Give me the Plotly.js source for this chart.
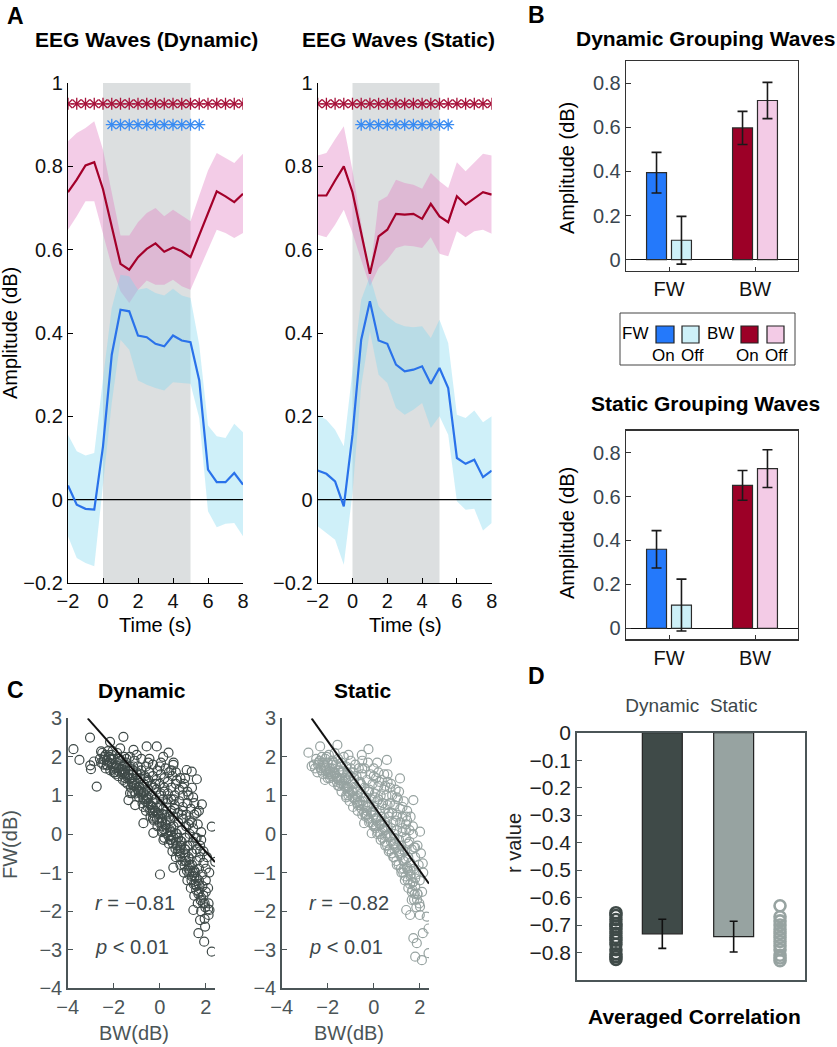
<!DOCTYPE html>
<html><head><meta charset="utf-8">
<script src="https://cdn.plot.ly/plotly-3.0.1.min.js"></script>
<style>html,body{margin:0;padding:0;background:#fff}#chart{width:837px;height:1047px}</style>
</head><body><div id="chart"></div>
<script>
// ---------------- DATA ----------------
// Panel A: time course (s)
const time = [-2,-1.5,-1,-0.5,0,0.5,1,1.5,2,2.5,3,3.5,4,4.5,5,5.5,6,6.5,7,7.5,8];
const stimWindow = [0, 5];
// Dynamic
const dynBWMean  = [0.738,0.768,0.802,0.810,0.745,0.655,0.566,0.552,0.582,0.602,0.615,0.595,0.605,0.596,0.582,0.635,0.690,0.740,0.728,0.714,0.734];
const dynBWUpper = [0.860,0.880,0.892,0.908,0.840,0.740,0.634,0.634,0.666,0.688,0.700,0.680,0.696,0.682,0.668,0.730,0.790,0.832,0.820,0.808,0.830];
const dynBWLower = [0.648,0.680,0.716,0.716,0.640,0.560,0.500,0.472,0.504,0.526,0.516,0.516,0.528,0.512,0.504,0.550,0.600,0.648,0.640,0.628,0.640];
const dynFWMean  = [0.034,-0.012,-0.022,-0.024,0.128,0.348,0.456,0.452,0.394,0.390,0.374,0.368,0.394,0.382,0.378,0.286,0.072,0.042,0.042,0.064,0.036];
const dynFWUpper = [0.156,0.116,0.106,0.112,0.290,0.460,0.540,0.536,0.504,0.508,0.496,0.490,0.506,0.490,0.484,0.372,0.178,0.152,0.148,0.182,0.162];
const dynFWLower = [-0.088,-0.140,-0.152,-0.160,0.030,0.232,0.384,0.360,0.286,0.276,0.268,0.262,0.282,0.280,0.278,0.196,-0.028,-0.066,-0.058,-0.056,-0.088];
// Static
const statBWMean  = [0.730,0.730,0.766,0.800,0.738,0.640,0.542,0.632,0.648,0.686,0.684,0.686,0.674,0.710,0.680,0.666,0.728,0.708,0.722,0.738,0.732];
const statBWUpper = [0.826,0.832,0.865,0.896,0.790,0.660,0.536,0.716,0.728,0.768,0.760,0.756,0.746,0.784,0.764,0.748,0.810,0.788,0.808,0.830,0.826];
const statBWLower = [0.636,0.630,0.660,0.696,0.640,0.575,0.512,0.556,0.576,0.604,0.610,0.608,0.604,0.630,0.590,0.584,0.644,0.630,0.644,0.648,0.638];
const statFWMean  = [0.070,0.062,0.044,-0.016,0.156,0.384,0.476,0.382,0.374,0.324,0.308,0.312,0.320,0.278,0.316,0.268,0.100,0.086,0.096,0.054,0.070];
const statFWUpper = [0.204,0.192,0.168,0.128,0.310,0.480,0.536,0.464,0.440,0.424,0.416,0.414,0.416,0.388,0.432,0.376,0.204,0.196,0.214,0.186,0.200];
const statFWLower = [-0.064,-0.080,-0.096,-0.156,0.016,0.272,0.404,0.300,0.280,0.220,0.204,0.216,0.232,0.172,0.200,0.156,-0.004,-0.024,-0.022,-0.074,-0.056];
// significance markers
const sigBWTimes = [-2,-1.5,-1,-0.5,0,0.5,1,1.5,2,2.5,3,3.5,4,4.5,5,5.5,6,6.5,7,7.5,8];
const sigFWTimes = [0.5,1,1.5,2,2.5,3,3.5,4,4.5,5,5.5];
const sigBWLevel = 0.95, sigFWLevel = 0.9;

// Panel B: grouping waves (categories FW, BW)
const waveCats = ['FW','BW'];
const dynOn = [0.394, 0.597],  dynOnErr = [0.092, 0.075];
const dynOff = [0.088, 0.721], dynOffErr = [0.108, 0.082];
const statOn = [0.360, 0.651], statOnErr = [0.085, 0.068];
const statOff = [0.106, 0.727], statOffErr = [0.118, 0.086];

// Panel C: single-trial BW vs FW amplitude (dB)
const dynBW = [-3.75,-3.49,-3.03,-2.99,-2.86,-2.74,-2.55,-2.16,-1.72,-1.58,-1.14,-0.57,-0.13,0.38,0.59,1.17,1.39,1.61,1.83,2.26,2.41,0.01,0.59,-0.28,2.12,2.16,2.12,1.97,1.93,1.68,2.26,1.75,1.46,-1.36,-1.07,-1.29,-0.93,-0.71,0.16,-3.02,
 -2.6,-2.5,-2.45,-2.4,-2.35,-2.3,-2.25,
 -2.2,-2.15,-2.1,-2.05,-2.0,-1.95,-1.9,-1.85,-1.8,-1.8,
 -1.7,-1.65,-1.6,-1.55,-1.5,-1.5,-1.45,-1.4,-1.35,-1.3,-1.3,
 -1.25,-1.2,-1.15,-1.1,-1.05,-1.0,-1.0,-0.95,-0.9,-0.9,-0.85,-0.8,-0.8,
 -0.75,-0.7,-0.7,-0.65,-0.6,-0.6,-0.55,-0.5,-0.5,-0.45,-0.45,-0.4,-0.4,-0.35,-0.35,-0.3,-0.3,
 -0.25,-0.2,-0.2,-0.15,-0.15,-0.1,-0.1,-0.05,0.0,0.0,0.0,0.05,0.05,0.1,0.1,0.15,0.15,0.2,0.2,0.2,
 0.25,0.3,0.3,0.35,0.35,0.4,0.4,0.45,0.45,0.5,0.5,0.5,0.55,0.55,0.6,0.6,0.6,
 0.65,0.65,0.7,0.7,0.7,0.75,0.75,0.8,0.8,0.85,0.85,0.9,0.9,0.9,0.95,0.95,1.0,1.0,1.0,
 1.05,1.05,1.1,1.1,1.1,1.15,1.15,1.2,1.2,1.2,1.25,1.25,1.3,1.3,1.3,1.35,1.35,1.4,1.4,1.4,
 1.45,1.45,1.5,1.5,1.5,1.55,1.55,1.6,1.6,1.6,1.65,1.65,1.7,1.7,1.7,1.75,1.75,1.8,1.8,1.8,
 1.85,1.85,1.9,1.9,1.95,1.95,2.0,2.0,2.0,2.05,2.1,2.1,2.15,
 -1.6,-1.2,-0.8,-0.6,-0.3,-0.1,0.1,0.3,0.5,0.7,0.9,1.1,1.3,1.5,1.6,0.2,0.4,-0.5,0.8,1.2,
 -2.55,-2.42,-2.28,-2.12,-1.98,-1.88,-1.76,-1.62,-1.52,-1.42,-1.32,-1.22,-1.12,-1.02,-0.92,-0.82,-0.72,-0.62,-0.52,-0.42,-0.32,-0.22,-0.12,-0.02,0.08,0.18,0.28,0.38,0.48,0.58,0.68,0.78,0.88,0.98,1.08,1.18,1.28,1.38,1.48,1.58,1.68,1.78,1.88,1.98,
 -2.35,-2.05,-1.75,-1.45,-1.15,-0.85,-0.55,-0.25,0.05,0.35,0.65,0.95,1.25,1.55,1.75,-2.0,-1.6,-1.2,-0.7,-0.3,0.1,0.45,0.85,1.15,1.45,
 -1.0,-0.5,0.0,0.25,0.5,0.75,1.0,1.25,1.45,1.6,1.7,0.15,0.6,1.1,1.4,
 -2.3,-2.1,-1.9,-1.7,-1.5,-1.3,-1.1,-0.9,-0.7,-0.5,-0.3,-0.1,0.1,0.3,0.5,0.7,0.9,1.1,1.3,1.5,1.7,1.9,
 -2.2,-1.8,-1.4,-1.0,-0.6,-0.2,0.2,0.6,1.0,1.4,1.8,
 -1.9,-1.5,-1.1,-0.7,-0.3,0.1,0.5,0.9,1.3,1.6];
const dynFW = [2.2,1.92,2.5,1.68,1.88,1.23,2.14,2.39,2.22,2.52,2.18,2.27,2.27,2.11,1.79,1.66,1.62,1.42,0.77,0.19,-0.72,-1.05,-0.87,0.03,-1.8,-1.97,-2.1,-2.4,-2.79,-2.57,-3.05,-2.23,-1.97,0.88,0.75,1.06,1.14,0.28,-0.15,1.78,
 1.95,2.1,1.8,2.0,1.7,1.9,2.15,
 1.85,1.65,2.05,1.75,1.95,1.6,1.85,2.1,1.7,1.5,
 1.9,1.55,1.75,2.0,1.45,1.65,1.85,1.3,1.55,1.75,2.0,
 1.2,1.45,1.65,1.9,1.05,1.3,1.55,1.75,0.95,1.2,1.45,1.65,1.95,
 0.8,1.05,1.3,1.5,1.75,0.6,0.9,1.15,1.4,1.6,1.95,0.45,0.75,1.0,1.25,1.5,1.8,
 0.35,0.6,0.9,1.15,1.4,1.65,0.2,0.5,0.75,1.0,1.3,1.55,1.85,0.05,0.4,0.65,0.9,1.2,1.45,-0.1,
 0.25,0.5,0.8,1.05,1.35,1.6,-0.25,0.1,0.35,0.6,0.9,1.2,1.5,-0.45,-0.1,0.2,0.45,
 0.75,1.0,1.3,1.6,-0.6,-0.3,0.0,0.3,0.55,0.85,1.15,1.45,-0.8,-0.5,-0.2,0.1,0.4,0.7,1.0,
 1.3,-1.0,-0.7,-0.4,-0.1,0.2,0.5,0.8,1.1,-1.2,-0.9,-0.6,-0.3,0.0,0.35,0.65,-1.4,-1.1,-0.8,-0.5,
 -0.2,0.15,0.5,0.8,-1.6,-1.3,-1.0,-0.7,-0.4,-0.1,0.25,-1.8,-1.5,-1.2,-0.9,-0.6,-0.3,0.05,-2.0,-1.65,
 -1.35,-1.05,-0.75,-0.45,-2.2,-1.8,-1.5,-1.2,-0.9,-0.6,-1.95,-1.4,-1.0,
 1.6,1.3,1.1,1.0,0.7,0.55,0.3,0.15,-0.05,-0.2,-0.35,-0.55,-0.8,-1.1,-1.35,0.5,0.45,0.8,-0.1,-0.3,
 1.85,1.92,1.78,1.95,1.7,1.78,1.62,1.68,1.55,1.48,1.42,1.35,1.25,1.2,1.1,1.05,0.95,0.85,0.7,0.62,0.55,0.45,0.38,0.3,0.2,0.12,0.02,-0.05,-0.15,-0.25,-0.38,-0.45,-0.6,-0.7,-0.82,-0.95,-1.05,-1.2,-1.3,-1.45,-1.55,-1.72,-1.8,-1.9,
 2.05,2.15,1.95,1.95,1.75,1.55,1.35,1.2,1.05,0.9,0.65,0.5,0.25,-0.1,-0.45,1.6,1.4,1.05,0.7,0.4,0.1,-0.15,-0.45,-0.7,-1.0,
 2.05,1.85,1.75,1.7,1.65,1.4,1.2,1.0,0.95,0.55,0.6,2.0,1.85,1.45,1.2,
 1.8,1.82,1.72,1.66,1.58,1.45,1.32,1.22,1.08,0.95,0.82,0.68,0.52,0.35,0.18,0.02,-0.18,-0.4,-0.65,-0.95,-1.3,-1.6,
 2.0,1.95,1.75,1.6,1.45,1.3,1.1,0.9,0.6,0.3,-0.15,
 1.55,1.35,1.1,0.9,0.6,0.35,0.05,-0.3,-0.95,-1.15];
const statBW = [-2.84,-2.7,-2.33,-2.12,-1.58,-1.1,-0.52,-0.23,0.57,1.14,1.72,2.01,2.13,-0.42,-0.09,2.3,2.38,2.38,2.09,1.8,1.87,1.72,2.13,1.58,1.41,2.01,1.65,
 -2.6,-2.5,-2.45,-2.4,-2.3,-2.25,-2.2,-2.15,-2.1,-2.05,-2.0,-2.0,
 -1.95,-1.9,-1.85,-1.8,-1.75,-1.7,-1.7,-1.65,-1.6,-1.55,-1.55,-1.5,
 -1.45,-1.4,-1.4,-1.35,-1.3,-1.3,-1.25,-1.2,-1.2,-1.15,-1.1,-1.05,-1.0,-1.0,
 -0.95,-0.9,-0.9,-0.85,-0.8,-0.8,-0.75,-0.7,-0.7,-0.65,-0.6,-0.6,-0.55,-0.5,-0.5,-0.5,
 -0.45,-0.4,-0.4,-0.35,-0.35,-0.3,-0.25,-0.25,-0.2,-0.2,-0.15,-0.1,-0.1,-0.05,0.0,0.0,0.0,
 0.05,0.1,0.1,0.15,0.15,0.2,0.2,0.25,0.25,0.3,0.3,0.35,0.35,0.4,0.4,0.45,0.45,0.5,0.5,0.5,
 0.55,0.6,0.6,0.65,0.65,0.7,0.7,0.75,0.75,0.8,0.8,0.85,0.85,0.9,0.9,0.95,0.95,1.0,1.0,1.0,
 1.05,1.1,1.1,1.15,1.15,1.2,1.2,1.25,1.25,1.3,1.3,1.35,1.35,1.4,1.4,1.45,1.45,1.5,1.5,1.5,
 1.55,1.6,1.6,1.65,1.65,1.7,1.7,1.75,1.75,1.8,1.8,1.85,1.85,1.9,1.9,1.95,2.0,2.0,2.05,2.1,2.15,
 -1.8,-1.2,-0.8,-0.4,0.0,0.3,0.6,0.9,1.2,1.4,1.6,1.8,
 -2.55,-2.42,-2.28,-2.12,-1.98,-1.88,-1.76,-1.62,-1.52,-1.42,-1.32,-1.22,-1.12,-1.02,-0.92,-0.82,-0.72,-0.62,-0.52,-0.42,-0.32,-0.22,-0.12,-0.02,0.08,0.18,0.28,0.38,0.48,0.58,0.68,0.78,0.88,0.98,1.08,1.18,1.28,1.38,1.48,1.58,1.68,1.78,1.88,1.98,
 -2.35,-2.05,-1.75,-1.45,-1.15,-0.85,-0.55,-0.25,0.05,0.35,0.65,0.95,1.25,1.55,1.75,-2.0,-1.6,-1.2,-0.7,-0.3,0.1,0.45,0.85,1.15,1.45,
 -1.0,-0.5,0.0,0.25,0.5,0.75,1.0,1.25,1.45,1.6,1.7,0.15,0.6,1.1,1.4,
 -2.3,-2.1,-1.9,-1.7,-1.5,-1.3,-1.1,-0.9,-0.7,-0.5,-0.3,-0.1,0.1,0.3,0.5,0.7,0.9,1.1,1.3,1.5,1.7,1.9,
 -2.2,-1.8,-1.4,-1.0,-0.6,-0.2,0.2,0.6,1.0,1.4,1.8,
 -1.9,-1.5,-1.1,-0.7,-0.3,0.1,0.5,0.9,1.3,1.6];
const statFW = [2.11,1.76,2.27,1.4,2.31,2.05,2.05,2.2,1.92,1.44,0.88,0.06,-0.76,0.28,0.02,-2.14,-2.45,-3.09,-3.27,-3.18,-2.83,-2.7,-2.57,-2.1,-1.97,-1.88,-1.71,
 1.8,1.95,1.6,1.85,1.7,2.0,1.55,1.8,1.95,1.65,1.85,1.45,
 2.05,1.7,1.5,1.9,1.35,1.6,2.1,1.8,1.45,1.25,1.95,1.65,
 1.4,1.85,1.1,1.6,1.25,2.0,1.45,0.95,1.75,1.2,1.55,0.85,1.35,1.9,
 1.1,1.6,0.7,1.3,0.95,1.8,1.5,0.6,1.15,1.7,0.85,1.35,1.05,0.5,1.55,1.9,
 0.75,1.2,1.7,0.45,0.95,1.4,0.7,1.85,1.1,0.3,1.55,0.55,0.9,1.3,1.7,0.2,0.7,
 1.05,1.45,0.4,0.0,0.85,1.25,1.6,0.25,0.6,1.0,-0.15,1.4,0.45,0.8,0.1,1.15,1.55,-0.3,0.3,0.65,
 1.0,1.35,-0.05,0.45,-0.45,0.8,1.2,0.15,-0.2,0.55,1.0,-0.6,0.3,-0.1,0.75,1.15,-0.35,0.1,0.5,-0.8,
 0.9,-0.5,-0.15,0.3,0.65,-1.0,-0.3,0.05,0.45,-0.7,0.85,-1.2,-0.45,-0.1,0.25,-0.85,0.6,-1.4,-0.6,-0.25,
 0.1,-1.05,-0.75,-1.5,-0.4,-1.25,0.0,-0.9,-1.7,-0.6,-1.35,-1.9,-1.05,-0.3,-1.55,-0.8,-1.2,-2.1,-0.5,-1.5,-1.0,
 1.7,1.4,1.2,0.95,0.5,0.35,0.2,0.0,-0.4,-0.65,-0.95,-1.15,
 1.7,1.8,1.65,1.75,1.6,1.55,1.5,1.5,1.4,1.3,1.3,1.2,1.1,1.05,0.95,0.9,0.8,0.75,0.65,0.55,0.5,0.4,0.3,0.25,0.15,0.05,0.0,-0.1,-0.2,-0.3,-0.4,-0.5,-0.6,-0.7,-0.8,-0.9,-1.0,-1.1,-1.2,-1.3,-1.45,-1.55,-1.7,-1.8,
 1.9,2.0,1.85,1.75,1.6,1.45,1.3,1.1,0.95,0.75,0.55,0.35,0.15,-0.2,-0.35,1.55,1.35,1.0,0.85,0.6,0.35,0.15,-0.25,-0.55,-0.9,
 1.7,1.7,1.5,1.35,1.25,1.3,0.95,0.7,0.35,0.45,0.2,1.85,1.55,1.1,0.45,
 1.72,1.7,1.62,1.55,1.45,1.35,1.22,1.1,0.98,0.85,0.72,0.58,0.42,0.25,0.1,-0.08,-0.25,-0.45,-0.7,-0.95,-1.25,-1.55,
 1.85,1.8,1.6,1.5,1.3,1.15,0.9,0.75,0.45,0.1,-0.35,
 1.45,1.25,1.0,0.75,0.5,0.2,-0.05,-0.4,-0.9,-1.1];
// regression fits: [dynamic, static]
const fitSlope = [-0.673, -0.84];
const fitIntercept = [0.89, 0.73];
const fitXStart = [-3.13, -2.7];
const fitXEnd = [2.4, 2.4];
const corrText = ['<i>r</i> = \u22120.81', '<i>r</i> = \u22120.82'];
const pText = ['<i>p</i> &lt; 0.01', '<i>p</i> &lt; 0.01'];

// Panel D: averaged correlation
const condNames = ['Dynamic','Static'];
const condPos = [1, 2];
const corrMean = [-0.732, -0.742];
const corrErr = [0.053, 0.056];
const stripPos = [0.35, 2.65];
const dynR = [-0.655,-0.665,-0.68,-0.695,-0.705,-0.715,-0.73,-0.745,-0.755,-0.77,-0.79,-0.805,-0.815,-0.825];
const statR = [-0.63,-0.67,-0.685,-0.70,-0.715,-0.73,-0.745,-0.76,-0.775,-0.79,-0.81,-0.82,-0.83];

// ---------------- STYLE ----------------
const W = 837, H = 1047;
const PX = x => x / W, PY = y => 1 - y / H;
const FONT = 'Liberation Sans, Arial, Helvetica, sans-serif';
const C = {
  red:'#a3002a', blue:'#2a72ea', redStar:'#a8143c', blueStar:'#3a8cf2',
  pinkFill:'rgba(226,128,196,0.40)', blueFill:'rgba(130,215,240,0.38)', shade:'#dcdfe0',
  barBlue:'#2479fb', barLBlue:'#cdf0f8', barRed:'#9c0027', barPink:'#f3cbe6',
  dGray:'#3f4a48', lGray:'#97a3a1', axGray:'#4b5557', txtGray:'#3d474a', bTick:'#3a4650'
};

const traces = [];
function band(t, up, lo, color, xa, ya){
  return {type:'scatter', mode:'lines', x: t.concat(t.slice().reverse()), y: up.concat(lo.slice().reverse()),
    fill:'toself', fillcolor:color, line:{width:0}, hoverinfo:'skip', xaxis:xa, yaxis:ya};
}
function panelA(bwM,bwU,bwL,fwM,fwU,fwL,xa,ya){
  traces.push(band(time,bwU,bwL,C.pinkFill,xa,ya));
  traces.push(band(time,fwU,fwL,C.blueFill,xa,ya));
  traces.push({type:'scatter',mode:'lines',x:[time[0],time[time.length-1]],y:[0,0],line:{color:'#000',width:1.3},xaxis:xa,yaxis:ya});
  traces.push({type:'scatter',mode:'lines',x:time,y:bwM,line:{color:C.red,width:2.2},xaxis:xa,yaxis:ya});
  traces.push({type:'scatter',mode:'lines',x:time,y:fwM,line:{color:C.blue,width:2.2},xaxis:xa,yaxis:ya});
  traces.push({type:'scatter',mode:'markers',x:sigBWTimes,y:sigBWTimes.map(()=>sigBWLevel),
    marker:{symbol:'asterisk-open',size:10,color:C.redStar,line:{color:C.redStar,width:1.3}},xaxis:xa,yaxis:ya});
  traces.push({type:'scatter',mode:'markers',x:sigFWTimes,y:sigFWTimes.map(()=>sigFWLevel),
    marker:{symbol:'asterisk-open',size:10,color:C.blueStar,line:{color:C.blueStar,width:1.3}},xaxis:xa,yaxis:ya});
}
panelA(dynBWMean,dynBWUpper,dynBWLower,dynFWMean,dynFWUpper,dynFWLower,'x','y');
panelA(statBWMean,statBWUpper,statBWLower,statFWMean,statFWUpper,statFWLower,'x2','y2');

function panelB(on,onErr,off,offErr,xa,ya){
  const eb = a => ({type:'data',array:a,visible:true,color:'#1a1a1a',thickness:1.6,width:5});
  traces.push({type:'bar',x:waveCats,y:on,error_y:eb(onErr),marker:{color:[C.barBlue,C.barRed],line:{color:'#2b2b2b',width:1.2}},xaxis:xa,yaxis:ya});
  traces.push({type:'bar',x:waveCats,y:off,error_y:eb(offErr),marker:{color:[C.barLBlue,C.barPink],line:{color:'#2b2b2b',width:1.2}},xaxis:xa,yaxis:ya});
}
panelB(dynOn,dynOnErr,dynOff,dynOffErr,'x3','y3');
panelB(statOn,statOnErr,statOff,statOffErr,'x4','y4');

function panelC(bw,fw,color,i,xa,ya){
  traces.push({type:'scatter',mode:'markers',x:bw,y:fw,marker:{symbol:'circle-open',size:9,color:color,line:{color:color,width:1.2}},xaxis:xa,yaxis:ya});
  const xs=[fitXStart[i],fitXEnd[i]];
  traces.push({type:'scatter',mode:'lines',x:xs,y:xs.map(v=>fitIntercept[i]+fitSlope[i]*v),line:{color:'#111',width:2},xaxis:xa,yaxis:ya});
}
panelC(dynBW,dynFW,C.dGray,0,'x5','y5');
panelC(statBW,statFW,C.lGray,1,'x6','y6');

traces.push({type:'bar',x:condPos,y:corrMean,width:0.56,error_y:{type:'data',array:corrErr,visible:true,color:'#111',thickness:1.6,width:4},
  marker:{color:[C.dGray,C.lGray],line:{color:'#222',width:1.2}},xaxis:'x7',yaxis:'y7'});
traces.push({type:'scatter',mode:'markers',x:dynR.map(()=>stripPos[0]),y:dynR,marker:{symbol:'circle-open',size:11,color:C.dGray,line:{color:C.dGray,width:2.6}},xaxis:'x7',yaxis:'y7'});
traces.push({type:'scatter',mode:'markers',x:statR.map(()=>stripPos[1]),y:statR,marker:{symbol:'circle-open',size:11,color:C.lGray,line:{color:C.lGray,width:2.6}},xaxis:'x7',yaxis:'y7'});

// ---------------- AXES ----------------
const base = {showgrid:false, zeroline:false, fixedrange:true, ticks:'inside', ticklen:5, showline:true};
const axA = (d,a)=>Object.assign({},base,{domain:d,anchor:a,range:[-2,8],tickvals:[-2,0,2,4,6,8],linecolor:'#000',tickcolor:'#000',linewidth:1.2,tickfont:{size:20,color:'#111'}});
const ayA = (d,a)=>Object.assign({},base,{domain:d,anchor:a,range:[-0.2,1],tickmode:'linear',tick0:0,dtick:0.2,linecolor:'#000',tickcolor:'#000',linewidth:1.2,tickfont:{size:20,color:'#111'}});
const axB = (d,a)=>Object.assign({},base,{domain:d,anchor:a,type:'category',categoryorder:'array',categoryarray:waveCats,range:[-0.5,1.5],mirror:true,linecolor:'#333',tickcolor:'#333',linewidth:1.3,ticklen:4,tickfont:{size:20,color:'#111'}});
const ayB = (d,a)=>Object.assign({},base,{domain:d,anchor:a,range:[-0.05,0.9],tickvals:[0,0.2,0.4,0.6,0.8],mirror:true,linecolor:'#333',tickcolor:'#333',linewidth:1.3,zeroline:true,zerolinecolor:'#111',zerolinewidth:1.5,tickfont:{size:20,color:C.bTick}});
const axC = (d,a)=>Object.assign({},base,{domain:d,anchor:a,range:[-4,2.4],tickvals:[-4,-2,0,2],linecolor:C.axGray,tickcolor:C.axGray,linewidth:1.5,tickfont:{size:20,color:C.axGray}});
const ayC = (d,a)=>Object.assign({},base,{domain:d,anchor:a,range:[-4,3],tickmode:'linear',tick0:0,dtick:1,linecolor:C.axGray,tickcolor:C.axGray,linewidth:1.5,tickfont:{size:20,color:C.axGray}});

const yA = [PY(583),PY(83)], yB1=[PY(270.7),PY(61)], yB2=[PY(639.3),PY(430.7)], yC=[PY(988.3),PY(718.3)], yD=[PY(980),PY(732.7)];

const layout = {
  width:W, height:H, margin:{l:0,r:0,t:0,b:0,pad:0}, paper_bgcolor:'#fff', plot_bgcolor:'rgba(0,0,0,0)',
  font:{family:FONT,size:20,color:'#000'}, showlegend:false, hovermode:false,
  barmode:'group', bargap:0.42, bargroupgap:0.2,
  xaxis: axA([PX(68),PX(243)],'y'),   yaxis: ayA(yA,'x'),
  xaxis2: axA([PX(317.7),PX(491.7)],'y2'), yaxis2: ayA(yA,'x2'),
  xaxis3: axB([PX(626),PX(798)],'y3'), yaxis3: ayB(yB1,'x3'),
  xaxis4: axB([PX(626),PX(798)],'y4'), yaxis4: ayB(yB2,'x4'),
  xaxis5: axC([PX(67.7),PX(215)],'y5'), yaxis5: ayC(yC,'x5'),
  xaxis6: axC([PX(281.7),PX(429)],'y6'), yaxis6: ayC(yC,'x6'),
  xaxis7: Object.assign({},base,{domain:[PX(576.7),PX(805)],anchor:'y7',side:'top',range:[-0.2,3],tickvals:condPos,ticktext:condNames,ticks:'',mirror:true,linecolor:C.axGray,linewidth:1.5,tickfont:{size:19,color:C.txtGray},ticklabelstandoff:12}),
  yaxis7: Object.assign({},base,{domain:yD,anchor:'x7',range:[-0.9,0],tickvals:[0,-0.1,-0.2,-0.3,-0.4,-0.5,-0.6,-0.7,-0.8],mirror:true,linecolor:C.axGray,tickcolor:C.axGray,linewidth:1.5,tickfont:{size:21,color:'#222'}}),
  shapes: [], annotations: []
};

// stimulus shading
['x','x2'].forEach((xa,i)=>{
  layout.shapes.push({type:'rect',layer:'below',xref:xa,yref:i?'y2':'y',x0:stimWindow[0],x1:stimWindow[1],y0:-0.2,y1:1,fillcolor:C.shade,line:{width:0}});
});

// Legend of panel B
function pRect(x0,y0,x1,y1,fill,lc,lw){layout.shapes.push({type:'rect',xref:'paper',yref:'paper',x0:PX(x0),x1:PX(x1),y0:PY(y1),y1:PY(y0),fillcolor:fill,line:{color:lc,width:lw}});}
pRect(620,313,795,365,'rgba(0,0,0,0)','#444',1);
pRect(656,326,674,343,C.barBlue,'#222',1.2);
pRect(682,326,699,343,C.barLBlue,'#222',1.2);
pRect(741,326,758,343,C.barRed,'#222',1.2);
pRect(767,326,784,343,C.barPink,'#222',1.2);

function ann(text,x,y,o){
  o=o||{};
  layout.annotations.push({text,xref:'paper',yref:'paper',x:PX(x),y:PY(y),xanchor:o.xa||'center',yanchor:'middle',showarrow:false,
    textangle:o.rot||0,font:{family:FONT,size:o.size||20,color:o.color||'#000',weight:o.bold?'bold':'normal'}});
}
// Panel A
ann('A',16,16,{bold:true,size:23});
ann('EEG Waves (Dynamic)',146,39,{bold:true,size:21});
ann('EEG Waves (Static)',398,39,{bold:true,size:21});
ann('Amplitude (dB)',10,333,{rot:-90});
ann('Time (s)',155,625);
ann('Time (s)',405,625);
// Panel B
ann('B',536,15,{bold:true,size:23});
ann('Dynamic Grouping Waves',705,38,{bold:true,size:21});
ann('Static Grouping Waves',705,404,{bold:true,size:21});
ann('Amplitude (dB)',567,168,{rot:-90});
ann('Amplitude (dB)',567,533,{rot:-90});
ann('FW',635,334,{size:17});
ann('BW',720,334,{size:17});
ann('On',663,355,{size:17});
ann('Off',692,355,{size:17});
ann('On',747,355,{size:17});
ann('Off',776,355,{size:17});
// Panel C
ann('C',16,690,{bold:true,size:23});
ann('Dynamic',142,690,{bold:true,size:21});
ann('Static',363,690,{bold:true,size:21});
ann('FW(dB)',10,845,{rot:-90,color:C.axGray});
ann('BW(dB)',134,1033,{color:C.axGray});
ann('BW(dB)',349,1033,{color:C.axGray});
ann(corrText[0],93,903,{xa:'left',color:C.txtGray});
ann(pText[0],93,947,{xa:'left',color:C.txtGray});
ann(corrText[1],307,903,{xa:'left',color:C.txtGray});
ann(pText[1],307,947,{xa:'left',color:C.txtGray});
// Panel D
ann('D',536,676,{bold:true,size:23});
ann('r value',514,843,{rot:-90,color:'#222'});
ann('Averaged Correlation',694,1016,{bold:true,size:21});

traces.forEach(t=>{t.showlegend=false; if(!t.hoverinfo) t.hoverinfo='skip';});
Plotly.newPlot('chart',traces,layout,{staticPlot:true,displayModeBar:false});
</script></body></html>
